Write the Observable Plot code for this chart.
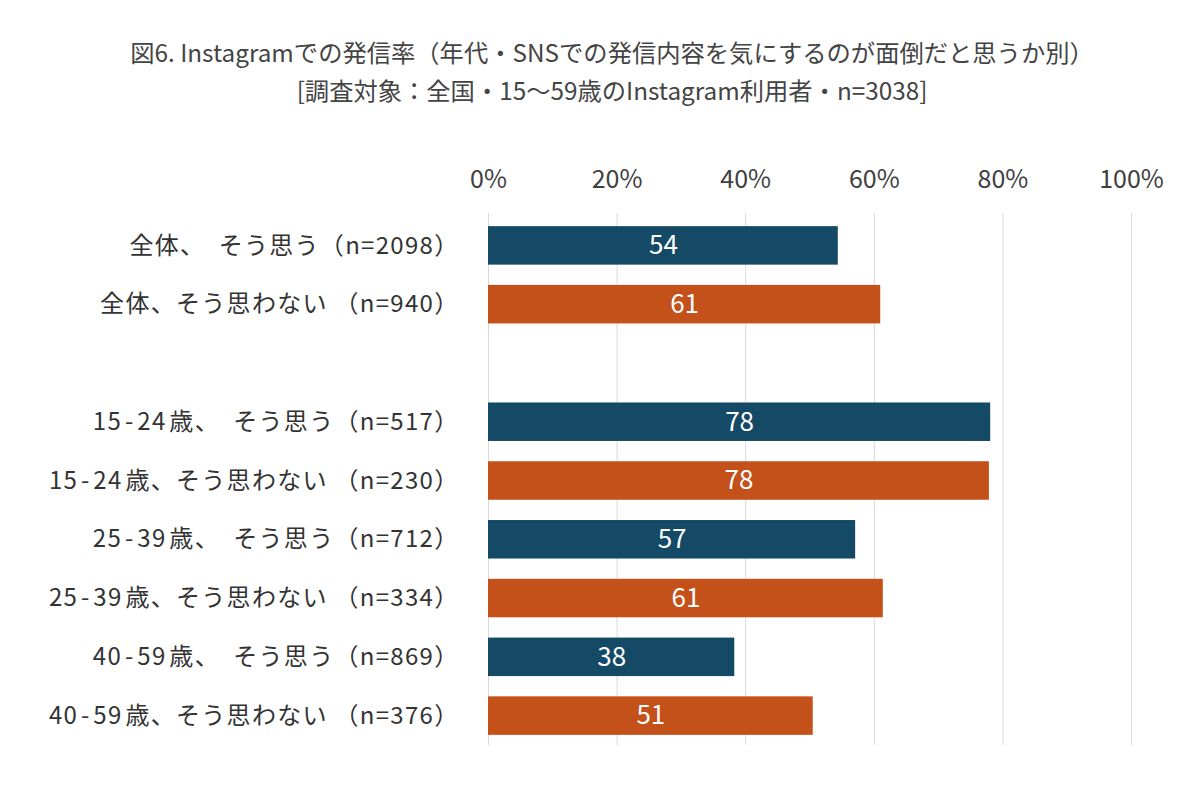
<!DOCTYPE html>
<html>
<head>
<meta charset="utf-8">
<script src="https://cdn.jsdelivr.net/npm/d3@7"></script>
<script src="https://cdn.jsdelivr.net/npm/@observablehq/plot@0.6"></script>
<style>
  html, body { margin: 0; padding: 0; background: #fff; }
  #title {
    height: 109px; box-sizing: border-box; padding-top: 33px;
    text-align: center; font-family: "Noto Sans CJK JP", sans-serif;
    color: #444; font-size: 24.3px; line-height: 38px; padding-left: 24px;
  }
  #chart svg { display: block; }
  #chart g[aria-label="y-axis tick label"] text { letter-spacing: 1.3px; }
</style>
</head>
<body>
<div id="title">
  <div>図6. Instagramでの発信率（年代・SNSでの発信内容を気にするのが面倒だと思うか別）</div>
  <div>[調査対象：全国・15～59歳のInstagram利用者・n=3038]</div>
</div>
<div id="chart"></div>
<script>
const categories = [
  "全体、　そう思う（n=2098）",
  "全体、そう思わない （n=940）",
  " ",
  "15\u200a-\u200a24\u200a歳、　そう思う（n=517）",
  "15\u200a-\u200a24\u200a歳、そう思わない （n=230）",
  "25\u200a-\u200a39\u200a歳、　そう思う（n=712）",
  "25\u200a-\u200a39\u200a歳、そう思わない （n=334）",
  "40\u200a-\u200a59\u200a歳、　そう思う（n=869）",
  "40\u200a-\u200a59\u200a歳、そう思わない （n=376）"
];
const barCategories = categories.filter(c => c !== " ");
const groups = ["そう思う", "そう思わない", "そう思う", "そう思わない", "そう思う", "そう思わない", "そう思う", "そう思わない"];
const values = [54.4, 61.0, 78.1, 77.9, 57.1, 61.4, 38.3, 50.5];
const valueLabels = ["54", "61", "78", "78", "57", "61", "38", "51"];
const xTicks = [0, 20, 40, 60, 80, 100];
const groupDomain = ["そう思う", "そう思わない"];
const groupColors = ["#154a66", "#c4501a"];

const data = barCategories.map((c, i) => ({label: c, group: groups[i], value: values[i], text: valueLabels[i]}));

const chart = Plot.plot({
  width: 1200,
  height: 685,
  marginTop: 104,
  marginBottom: 49,
  marginLeft: 488,
  marginRight: 69,
  style: {fontFamily: "'Noto Sans CJK JP', sans-serif", background: "#fff"},
  x: {domain: [0, 100], axis: null},
  y: {domain: categories, paddingInner: 0.345, paddingOuter: 0.1725, insetTop: 3, round: false, axis: null},
  color: {domain: groupDomain, range: groupColors},
  marks: [
    Plot.gridX(xTicks, {stroke: "#d9d9d9", strokeOpacity: 1, strokeWidth: 1}),
    Plot.axisX({anchor: "top", ticks: xTicks, tickSize: 0, tickPadding: 26, tickFormat: d => d + "%", fontSize: 25, fill: "#404040", label: null}),
    Plot.axisY({ticks: categories, tickSize: 0, tickPadding: 29, fontSize: 24, fill: "#333", label: null}),
    Plot.barX(data, {x: "value", y: "label", fill: "group"}),
    Plot.text(data, {x: d => d.value / 2, y: "label", text: "text", fill: "white", fontSize: 26})
  ]
});
document.getElementById("chart").appendChild(chart);
</script>
</body>
</html>
